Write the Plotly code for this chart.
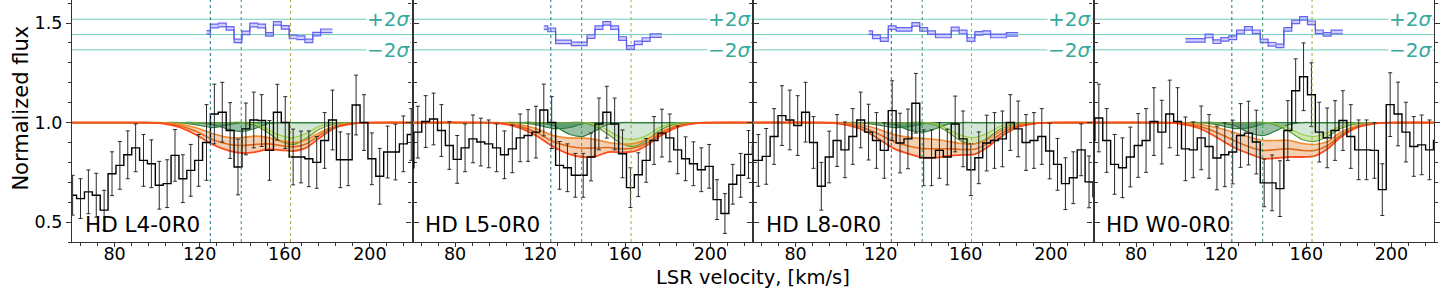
import plotly.graph_objects as go
from plotly.subplots import make_subplots

# ---------------- data ----------------
PANEL_LABELS = ["HD L4-0R0", "HD L5-0R0", "HD L8-0R0", "HD W0-0R0"]

VEL_A = [60.3, 64.0, 67.7, 71.4, 75.1, 78.8, 82.5, 86.2, 89.9, 93.6, 97.3, 101.0, 104.7,
         108.4, 112.1, 115.8, 119.5, 123.2, 126.9, 130.6, 134.3, 138.0, 141.7, 145.4,
         149.1, 152.8, 156.5, 160.2, 163.9, 167.6, 171.3, 175.0, 178.7, 182.4, 186.1,
         189.8, 193.5, 197.2, 200.9, 204.6, 208.3, 212.0, 215.7, 219.4]
VEL_B = [58.8, 62.5, 66.2, 69.9, 73.6, 77.3, 81.0, 84.7, 88.4, 92.1, 95.8, 99.5, 103.2,
         106.9, 110.6, 114.3, 118.0, 121.7, 125.4, 129.1, 132.8, 136.5, 140.2, 143.9,
         147.6, 151.3, 155.0, 158.7, 162.4, 166.1, 169.8, 173.5, 177.2, 180.9, 184.6,
         188.3, 192.0, 195.7, 199.4, 203.1, 206.8, 210.5, 214.2, 217.9, 221.6]

FLUX_1 = [0.635, 0.618, 0.652, 0.635, 0.56, 0.743, 0.785, 0.838, 0.873, 0.81, 0.793, 0.685,
          0.693, 0.835, 0.718, 0.76, 0.81, 0.90, 1.043, 1.052, 0.96, 0.777, 0.968, 1.013,
          1.01, 0.86, 1.052, 1.0, 0.827, 0.827, 0.818, 0.80, 0.91, 1.013, 0.813, 0.813,
          1.088, 1.0, 0.818, 0.73, 0.852, 0.852, 0.893, 0.94]
ERR_1 = [0.10, 0.10, 0.11, 0.11, 0.10, 0.11, 0.12, 0.12, 0.12, 0.13, 0.12, 0.12, 0.12,
         0.13, 0.12, 0.13, 0.13, 0.19, 0.15, 0.15, 0.14, 0.14, 0.13, 0.14, 0.13, 0.15,
         0.14, 0.13, 0.14, 0.13, 0.14, 0.13, 0.14, 0.15, 0.14, 0.13, 0.15, 0.14, 0.13,
         0.14, 0.13, 0.14, 0.14, 0.13]

FLUX_2 = [0.773, 0.952, 1.005, 1.018, 0.96, 0.885, 0.815, 0.873, 0.918, 0.902, 0.893, 0.873,
          0.838, 0.868, 0.923, 0.935, 0.952, 1.063, 1.0, 0.785, 0.773, 0.735, 0.735, 0.827,
          0.993, 1.052, 0.993, 0.843, 0.673, 0.738, 0.81, 0.91, 0.947, 0.923, 0.863, 0.818,
          0.793, 0.763, 0.78, 0.613, 0.543, 0.69, 0.735, 0.84, 0.885]
ERR_2 = [0.12, 0.13, 0.13, 0.13, 0.13, 0.12, 0.12, 0.12, 0.12, 0.12, 0.12, 0.12, 0.12,
         0.12, 0.12, 0.13, 0.13, 0.13, 0.13, 0.12, 0.12, 0.11, 0.11, 0.12, 0.13, 0.13,
         0.13, 0.12, 0.10, 0.11, 0.11, 0.12, 0.12, 0.12, 0.12, 0.11, 0.11, 0.11, 0.11,
         0.10, 0.10, 0.10, 0.11, 0.12, 0.12]

FLUX_3 = [0.81, 0.81, 0.83, 0.93, 1.035, 1.013, 0.985, 1.052, 0.90, 0.68, 0.827, 0.91,
          0.863, 0.93, 1.013, 0.952, 0.91, 0.86, 1.06, 0.897, 0.918, 1.097, 0.823, 0.823,
          0.86, 0.827, 0.993, 0.918, 0.763, 0.823, 0.897, 0.91, 0.918, 1.0, 0.968, 0.90,
          0.91, 0.93, 0.857, 0.79, 0.693, 0.723, 0.863, 0.702, 0.627]
ERR_3 = [0.13, 0.13, 0.14, 0.14, 0.15, 0.15, 0.15, 0.15, 0.13, 0.12, 0.13, 0.13, 0.14,
         0.14, 0.14, 0.14, 0.14, 0.14, 0.15, 0.15, 0.15, 0.15, 0.14, 0.14, 0.14, 0.14,
         0.14, 0.14, 0.13, 0.13, 0.14, 0.14, 0.14, 0.14, 0.14, 0.14, 0.14, 0.14, 0.14,
         0.13, 0.13, 0.13, 0.13, 0.13, 0.13]

FLUX_4 = [0.91, 1.023, 0.91, 0.79, 0.773, 0.827, 0.885, 0.91, 1.005, 0.952, 1.043, 1.005,
          0.868, 0.863, 0.923, 0.88, 0.822, 0.838, 0.852, 0.935, 0.947, 0.902, 0.697, 0.697,
          0.668, 0.96, 1.16, 1.23, 1.14, 0.952, 0.923, 0.96, 1.01, 0.93, 0.863, 0.863,
          0.86, 0.663, 1.09, 1.043, 0.952, 0.88, 0.888, 0.863, 0.91]
ERR_4 = [0.16, 0.17, 0.16, 0.15, 0.15, 0.15, 0.16, 0.16, 0.17, 0.16, 0.17, 0.17, 0.16,
         0.14, 0.16, 0.16, 0.16, 0.16, 0.16, 0.16, 0.16, 0.16, 0.12, 0.14, 0.14, 0.15,
         0.16, 0.17, 0.16, 0.15, 0.15, 0.15, 0.15, 0.16, 0.15, 0.15, 0.14, 0.13, 0.16,
         0.16, 0.15, 0.15, 0.15, 0.15, 0.15]

# model knots (velocity) and model profiles
KNOT_V = [60, 90, 100, 110, 118, 126, 134, 140, 146, 152, 158, 164, 170, 176, 184, 194, 204, 220]

TOT_LO = [
    [1, 1, 0.998, 0.978, 0.94, 0.89, 0.858, 0.847, 0.852, 0.865, 0.862, 0.857, 0.873, 0.92, 0.975, 0.997, 1, 1],
    [1, 1, 0.997, 0.975, 0.935, 0.88, 0.84, 0.827, 0.83, 0.852, 0.85, 0.855, 0.885, 0.93, 0.975, 0.997, 1, 1],
    [1, 1, 0.995, 0.97, 0.925, 0.87, 0.84, 0.824, 0.824, 0.833, 0.838, 0.84, 0.875, 0.925, 0.975, 0.997, 1, 1],
    [1, 1, 0.995, 0.97, 0.925, 0.875, 0.84, 0.818, 0.822, 0.827, 0.827, 0.832, 0.868, 0.925, 0.975, 0.997, 1, 1],
]
TOT_MID = [
    [1, 1, 0.999, 0.985, 0.958, 0.915, 0.89, 0.885, 0.89, 0.893, 0.885, 0.878, 0.892, 0.935, 0.98, 0.997, 1, 1],
    [1, 1, 0.999, 0.982, 0.952, 0.905, 0.88, 0.872, 0.872, 0.875, 0.868, 0.872, 0.897, 0.94, 0.98, 0.998, 1, 1],
    [1, 1, 0.998, 0.98, 0.948, 0.905, 0.88, 0.87, 0.868, 0.868, 0.865, 0.866, 0.893, 0.94, 0.982, 0.998, 1, 1],
    [1, 1, 0.998, 0.98, 0.95, 0.91, 0.875, 0.86, 0.865, 0.868, 0.86, 0.86, 0.885, 0.935, 0.98, 0.998, 1, 1],
]
TOT_HI = [
    [1, 1, 1, 0.993, 0.975, 0.945, 0.925, 0.925, 0.932, 0.925, 0.908, 0.90, 0.912, 0.948, 0.985, 0.998, 1, 1],
    [1, 1, 1, 0.99, 0.97, 0.935, 0.922, 0.922, 0.915, 0.90, 0.892, 0.895, 0.915, 0.95, 0.985, 0.998, 1, 1],
    [1, 1, 1, 0.99, 0.97, 0.94, 0.925, 0.92, 0.915, 0.905, 0.895, 0.893, 0.912, 0.955, 0.988, 0.998, 1, 1],
    [1, 1, 1, 0.99, 0.975, 0.95, 0.925, 0.91, 0.91, 0.91, 0.895, 0.89, 0.905, 0.95, 0.985, 0.998, 1, 1],
]
COMP_1 = [
    [1, 1, 1, 1, 0.99, 0.975, 0.99, 1, 1, 1, 1, 1, 1, 1, 1, 1, 1, 1],
    [1, 1, 1, 1, 0.99, 0.97, 0.975, 0.995, 1, 1, 1, 1, 1, 1, 1, 1, 1, 1],
    [1, 1, 1, 1, 0.99, 0.975, 0.98, 0.995, 1, 1, 1, 1, 1, 1, 1, 1, 1, 1],
    [1, 1, 1, 1, 0.99, 0.97, 0.975, 0.995, 1, 1, 1, 1, 1, 1, 1, 1, 1, 1],
]
COMP_2 = [
    [1, 1, 1, 1, 1, 0.99, 0.965, 0.955, 0.97, 0.995, 1, 1, 1, 1, 1, 1, 1, 1],
    [1, 1, 1, 1, 1, 0.985, 0.94, 0.93, 0.96, 0.99, 1, 1, 1, 1, 1, 1, 1, 1],
    [1, 1, 1, 1, 1, 0.99, 0.96, 0.952, 0.97, 0.993, 1, 1, 1, 1, 1, 1, 1, 1],
    [1, 1, 1, 1, 1, 0.985, 0.945, 0.935, 0.96, 0.99, 1, 1, 1, 1, 1, 1, 1, 1],
]
COMP_3_LO = [
    [1, 1, 1, 1, 1, 1, 1, 1, 0.985, 0.95, 0.905, 0.89, 0.92, 0.965, 0.995, 1, 1, 1],
    [1, 1, 1, 1, 1, 1, 1, 1, 0.98, 0.94, 0.895, 0.88, 0.91, 0.96, 0.993, 1, 1, 1],
    [1, 1, 1, 1, 1, 1, 1, 1, 0.985, 0.95, 0.905, 0.893, 0.92, 0.965, 0.995, 1, 1, 1],
    [1, 1, 1, 1, 1, 1, 1, 1, 0.985, 0.955, 0.915, 0.905, 0.93, 0.97, 0.995, 1, 1, 1],
]
COMP_3_HI = [
    [1, 1, 1, 1, 1, 1, 1, 1, 0.992, 0.965, 0.935, 0.925, 0.945, 0.98, 0.998, 1, 1, 1],
    [1, 1, 1, 1, 1, 1, 1, 1, 0.99, 0.96, 0.925, 0.915, 0.935, 0.975, 0.997, 1, 1, 1],
    [1, 1, 1, 1, 1, 1, 1, 1, 0.992, 0.965, 0.935, 0.925, 0.945, 0.98, 0.998, 1, 1, 1],
    [1, 1, 1, 1, 1, 1, 1, 1, 0.992, 0.97, 0.94, 0.93, 0.95, 0.982, 0.998, 1, 1, 1],
]

# residuals (top)
RES_V_1 = [123.2, 126.9, 130.6, 134.3, 138.0, 141.7, 145.4, 149.1, 152.8, 156.5, 160.2,
           163.9, 167.6, 171.3, 175.0, 178.7, 182.4]
RES_1 = [1.453, 1.485, 1.49, 1.473, 1.41, 1.45, 1.49, 1.485, 1.443, 1.498, 1.478, 1.43,
         1.426, 1.41, 1.444, 1.461, 1.461]
RES_V_2 = [121.7, 125.4, 129.1, 132.8, 136.5, 140.2, 143.9, 147.6, 151.3, 155.0, 158.7,
           162.4, 166.1, 169.8, 173.5, 177.2]
RES_2 = [1.477, 1.465, 1.405, 1.405, 1.395, 1.395, 1.432, 1.477, 1.498, 1.477, 1.422,
         1.377, 1.40, 1.417, 1.437, 1.437]
RES_V_3 = [114.3, 118.0, 121.7, 125.4, 129.1, 132.8, 136.5, 140.2, 143.9, 147.6, 151.3,
           155.0, 158.7, 162.4, 166.1, 169.8, 173.5, 177.2, 180.9, 184.6]
RES_3 = [1.452, 1.431, 1.417, 1.477, 1.468, 1.468, 1.493, 1.468, 1.452, 1.435, 1.435,
         1.47, 1.455, 1.417, 1.448, 1.452, 1.435, 1.435, 1.443, 1.443]
RES_V_4 = [103.2, 106.9, 110.6, 114.3, 118.0, 121.7, 125.4, 129.1, 132.8, 136.5, 140.2,
           143.9, 147.6, 151.3, 155.0, 158.7, 162.4, 166.1, 169.8, 173.5, 177.2]
RES_4 = [1.413, 1.413, 1.413, 1.435, 1.406, 1.418, 1.426, 1.455, 1.473, 1.456, 1.41,
         1.393, 1.385, 1.468, 1.506, 1.523, 1.501, 1.456, 1.443, 1.455, 1.455]
RES_HALF = 0.009

SIGMA_LINES = [1.365, 1.442, 1.519]
COMP_CENTERS = [125.0, 139.5, 162.7]

PANELS = [
    (VEL_A, FLUX_1, ERR_1, RES_V_1, RES_1),
    (VEL_B, FLUX_2, ERR_2, RES_V_2, RES_2),
    (VEL_B, FLUX_3, ERR_3, RES_V_3, RES_3),
    (VEL_B, FLUX_4, ERR_4, RES_V_4, RES_4),
]

# ---------------- style ----------------
FONT = "DejaVu Sans"
ORANGE_FILL = "rgba(236,150,85,0.45)"
DARKGREEN_FILL = "rgba(25,115,55,0.45)"
LIGHTGREEN_FILL = "rgba(150,200,70,0.45)"
PALEGREEN_FILL = "rgba(80,160,90,0.25)"
TEAL = "#33aa9c"
VLINE_COLORS = ["#1f6f80", "#3f8f5f", "#a9a64a"]
SPL = dict(shape="spline", smoothing=0.8)

fig = make_subplots(rows=1, cols=4, shared_yaxes=True, horizontal_spacing=0)

for i, (vel, flux, err, rv, res) in enumerate(PANELS):
    col = i + 1
    xa = "x" if col == 1 else f"x{col}"

    def add(tr):
        fig.add_trace(tr, row=1, col=col)

    # residual band
    add(go.Scatter(x=rv, y=[r - RES_HALF for r in res], mode="lines",
                   line=dict(shape="hvh", color="rgba(85,85,238,0.9)", width=1.2),
                   hoverinfo="skip"))
    add(go.Scatter(x=rv, y=[r + RES_HALF for r in res], mode="lines", fill="tonexty",
                   fillcolor="rgba(120,120,255,0.35)",
                   line=dict(shape="hvh", color="rgba(85,85,238,0.9)", width=1.2),
                   hoverinfo="skip"))

    # total model band (orange)
    add(go.Scatter(x=KNOT_V, y=TOT_HI[i], mode="lines", line=dict(width=0, **SPL),
                   hoverinfo="skip"))
    add(go.Scatter(x=KNOT_V, y=TOT_LO[i], mode="lines", fill="tonexty", fillcolor=ORANGE_FILL,
                   line=dict(width=0, **SPL), hoverinfo="skip"))

    # green component fills
    for comp, fc in ((COMP_1[i], DARKGREEN_FILL), (COMP_2[i], DARKGREEN_FILL),
                     (COMP_3_HI[i], PALEGREEN_FILL)):
        add(go.Scatter(x=[60, 220], y=[1.0, 1.0], mode="lines", line=dict(width=0),
                       hoverinfo="skip"))
        add(go.Scatter(x=KNOT_V, y=comp, mode="lines", fill="tonexty", fillcolor=fc,
                       line=dict(width=0, **SPL), hoverinfo="skip"))
    add(go.Scatter(x=KNOT_V, y=COMP_3_HI[i], mode="lines", line=dict(width=0, **SPL),
                   hoverinfo="skip"))
    add(go.Scatter(x=KNOT_V, y=COMP_3_LO[i], mode="lines", fill="tonexty",
                   fillcolor=LIGHTGREEN_FILL, line=dict(width=0, **SPL), hoverinfo="skip"))

    # component lines
    for comp, lc in ((COMP_1[i], "#2f7d3a"), (COMP_2[i], "#2f7d3a"),
                     (COMP_3_HI[i], "#9ccc45"), (COMP_3_LO[i], "#5f9e3a")):
        add(go.Scatter(x=KNOT_V, y=comp, mode="lines",
                       line=dict(color=lc, width=1.2, **SPL), hoverinfo="skip"))

    # total model lines
    add(go.Scatter(x=KNOT_V, y=TOT_HI[i], mode="lines",
                   line=dict(color="#f28a2e", width=1.6, **SPL), hoverinfo="skip"))
    add(go.Scatter(x=KNOT_V, y=TOT_MID[i], mode="lines",
                   line=dict(color="#e06c1e", width=1.6, **SPL), hoverinfo="skip"))
    add(go.Scatter(x=KNOT_V, y=TOT_LO[i], mode="lines",
                   line=dict(color="#ff4a1c", width=1.8, **SPL), hoverinfo="skip"))

    # data: error bars and steps
    add(go.Scatter(x=vel, y=flux, mode="markers",
                   marker=dict(size=1, color="rgba(0,0,0,0)"),
                   error_y=dict(type="data", array=err, visible=True, color="#2a2a2a",
                                thickness=1.0, width=2),
                   hoverinfo="skip"))
    add(go.Scatter(x=vel, y=flux, mode="lines",
                   line=dict(shape="hvh", color="black", width=1.4), hoverinfo="skip"))

    # vertical dotted lines at component centres
    for cx, cc in zip(COMP_CENTERS, VLINE_COLORS):
        fig.add_shape(type="line", xref=xa, yref="paper", x0=cx, x1=cx, y0=0, y1=1,
                      line=dict(color=cc, width=1, dash="dot"), layer="above")
    # residual sigma lines
    for sy in SIGMA_LINES:
        fig.add_shape(type="line", xref=xa, yref="y", x0=60, x1=220, y0=sy, y1=sy,
                      line=dict(color="rgba(64,190,170,0.75)", width=1), layer="below")

    # +2σ / −2σ labels
    for txt, sy in (("+2<i>σ</i>", SIGMA_LINES[2]), ("−2<i>σ</i>", SIGMA_LINES[0])):
        fig.add_annotation(x=219.3, y=sy, xref=xa, yref="y", text=txt,
                           showarrow=False, xanchor="right", yanchor="middle",
                           font=dict(family=FONT, size=20, color=TEAL), bgcolor="white",
                           borderpad=0)
    # panel label
    fig.add_annotation(x=65.0, y=0.486, xref=xa, yref="y", text=PANEL_LABELS[i],
                       showarrow=False, xanchor="left", yanchor="middle",
                       font=dict(family=FONT, size=21.5, color="black"))

    fig.update_xaxes(range=[60, 220], tickvals=[80, 120, 160, 200], ticks="outside",
                     ticklen=4, tickwidth=1.2, tickcolor="#333", ticklabelstandoff=-8,
                     minor=dict(dtick=8, tick0=0, ticks="outside", ticklen=2.5,
                                tickcolor="#333", tickwidth=1),
                     showline=True, linecolor="#333", linewidth=1.3, mirror=False,
                     showgrid=False, zeroline=False,
                     tickfont=dict(family=FONT, size=17.5, color="black"),
                     row=1, col=col)
    fig.update_yaxes(range=[0.40, 1.6156], tickvals=[0.5, 1.0, 1.5],
                     ticktext=["0.5", "1.0", "1.5"], ticks="outside", ticklen=5,
                     tickwidth=1.2, tickcolor="#333",
                     minor=dict(dtick=0.1, tick0=0, ticks="outside", ticklen=3,
                                tickcolor="#333", tickwidth=1),
                     showline=True, linecolor="#333", linewidth=1.3, mirror="ticks",
                     showgrid=False, zeroline=False, showticklabels=(col == 1),
                     tickfont=dict(family=FONT, size=17.5, color="black"),
                     row=1, col=col)

fig.add_annotation(x=0.5, y=-0.145, xref="paper", yref="paper", yanchor="middle",
                   text="LSR velocity, [km/s]", showarrow=False,
                   font=dict(family=FONT, size=19.5, color="black"))
fig.add_annotation(x=-0.0373, y=0.552, xref="paper", yref="paper", xanchor="center",
                   yanchor="middle", text="Normalized flux", showarrow=False, textangle=-90,
                   font=dict(family=FONT, size=21, color="black"))

fig.update_layout(width=1440, height=288, margin=dict(l=72, r=2, t=0, b=46),
                  plot_bgcolor="white", paper_bgcolor="white", showlegend=False)

fig.write_html("out.html", config={"displayModeBar": False},
               post_script="document.body.style.margin='0px';document.body.style.padding='0px';")
